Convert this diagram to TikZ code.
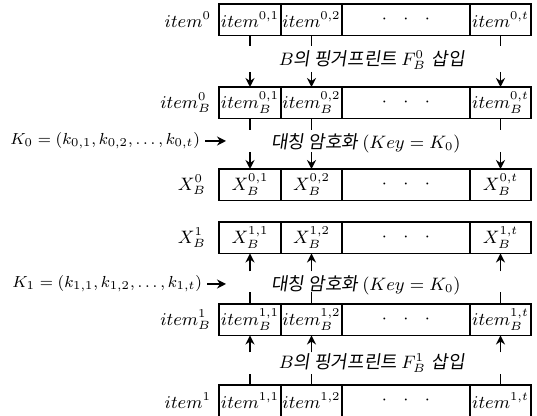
\documentclass[tikz,border=0pt]{standalone}
\usepackage{fontspec}
\newfontfamily\kr[FakeSlant=0.15]{Noto Sans CJK KR}
\usetikzlibrary{arrows.meta,positioning}

\begin{document}
\begin{tikzpicture}[x=0.5pt,y=-0.5pt,>={Stealth[length=4.5pt,width=4.5pt]},
  font=\fontsize{9pt}{10pt}\selectfont,
  cell/.style={draw,line width=0.6pt,minimum height=15.75pt,inner sep=0.3pt,outer sep=0pt,anchor=north west},
  note/.style={font=\fontsize{9pt}{10pt}\selectfont},
  keytext/.style={anchor=west,inner sep=1pt,font=\fontsize{8.5pt}{10pt}\selectfont},
  link/.style={line width=0.7pt}]
\useasboundingbox (0,0) rectangle (537,416);
% rows of cells
\foreach \r/\yy/\pre/\idx/\gap in {1/4/item/0/0.5pt,2/87/item_B/0/0.5pt,3/169/X_B/0/3pt,
    4/222/X_B/1/3pt,5/304/item_B/1/0.5pt,6/385/item/1/0.5pt} {
  \node[cell,minimum width=31pt] (r\r c1) at (219,\yy) {$\pre^{\idx,1}$};
  \node[cell,minimum width=30.5pt,right=0pt of r\r c1] (r\r c2) {$\pre^{\idx,2}$};
  \node[cell,minimum width=64pt,right=0pt of r\r c2] (r\r c3) {$\cdot\ \ \cdot\ \ \cdot$};
  \node[cell,minimum width=30.5pt,right=0pt of r\r c3] (r\r c4) {$\pre^{\idx,t}$};
  \node[left=\gap of r\r c1] (r\r l) {$\pre^{\idx}$};
}
% texts between rows
\node[note] (fp0) at (372,60) {$B$\kr 의 핑거프린트 \normalfont$F_B^0$ \kr 삽입};
\node[note] (enc0) at (366,143) {\kr 대칭 암호화 \normalfont$(Key = K_0)$};
\node[note] (enc1) at (366,285) {\kr 대칭 암호화 \normalfont$(Key = K_0)$};
\node[note] (fp1) at (372,363) {$B$\kr 의 핑거프린트 \normalfont$F_B^1$ \kr 삽입};
% keys
\node[keytext] (k0) at (8,141) {$K_0 = (k_{0,1}, k_{0,2},\ldots,k_{0,t})$};
\node[keytext] (k1) at (10,284) {$K_1 = (k_{1,1}, k_{1,2},\ldots,k_{1,t})$};
\coordinate (k0end) at (226,141);
\coordinate (k1end) at (226,284);
\draw[link,->] ([xshift=1.5pt]k0.east) -- (k0end);
\draw[link,->] ([xshift=1.5pt]k1.east) -- (k1end);
% ticks and arrows
\foreach \c in {1,2,4} {
  \draw[link] (r1c\c.south) -- ++(0,11) coordinate (t1\c);
  \coordinate[above=7.5pt of r2c\c] (a2\c);
  \draw[link,->] (a2\c) -- (r2c\c);
  \draw[link] (r2c\c.south) -- ++(0,12) coordinate (t2\c);
  \coordinate[above=8.5pt of r3c\c] (a3\c);
  \draw[link,->] (a3\c) -- (r3c\c);
  \draw[link] (r5c\c.north) -- ++(0,-12) coordinate (t5\c);
  \coordinate[below=9pt of r4c\c] (a4\c);
  \draw[link,->] (a4\c) -- (r4c\c);
  \draw[link] (r6c\c.north) -- ++(0,-11) coordinate (t6\c);
  \coordinate[below=8.5pt of r5c\c] (a5\c);
  \draw[link,->] (a5\c) -- (r5c\c);
}
\end{tikzpicture}
\end{document}
